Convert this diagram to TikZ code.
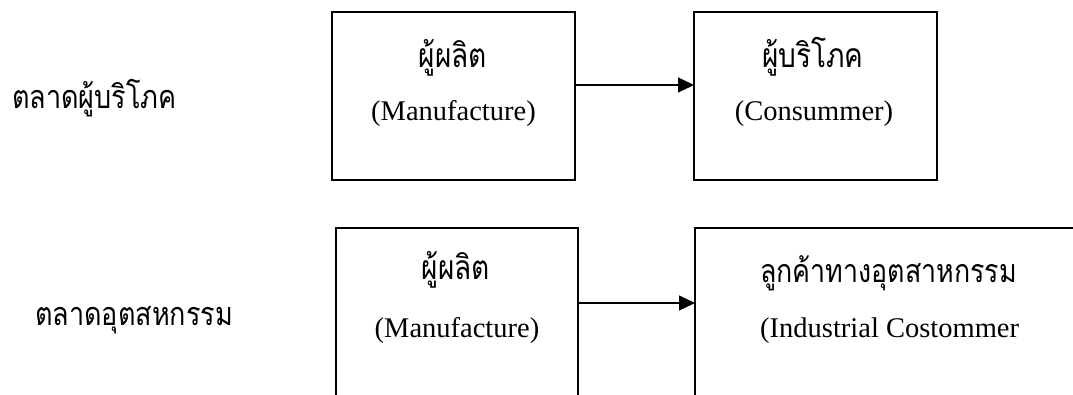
\documentclass[tikz,border=0pt]{standalone}
\usepackage{fontspec}
\setmainfont{Liberation Serif}
\newfontfamily\thaifont[Script=Thai]{Loma}
\usetikzlibrary{arrows.meta}
\newcommand{\tallthai}[1]{\scalebox{1}[1.2]{#1}}
\begin{document}
\begin{tikzpicture}[x=1pt,y=-1pt,
  box/.style={draw,line width=1.6pt,inner sep=0pt,outer sep=0pt},
  lat/.style={inner sep=0pt,anchor=base,font=\fontsize{28.5}{34}\selectfont},
  thb/.style={inner sep=0pt,anchor=base,font=\thaifont\fontsize{28}{34}\selectfont},
  thl/.style={inner sep=0pt,anchor=base west,font=\thaifont\fontsize{27}{34}\selectfont},
  flow/.style={line width=1.2pt,-{Triangle[length=16pt,width=15pt]}}]
\useasboundingbox (0,0) rectangle (1073,394);
\clip (0,0) rectangle (1073,394);
% top row
\node[box,minimum width=243pt,minimum height=168pt] (b1) at (453.5,96) {};
\node[box,minimum width=243pt,minimum height=168pt] (b2) at (815.5,96) {};
\node[thb] (t1) at (453,67) {\tallthai{ผู้ผลิต}};
\node[lat] (e1) at (453.5,120) {(Manufacture)};
\node[thb] (t2) at (813,67) {\tallthai{ผู้บริโภค}};
\node[lat] (e2) at (814,120) {(Consummer)};
\draw[flow] ([yshift=11pt]b1.east) -- ([yshift=11pt]b2.west);
\node[thl] (l1) at (12,108) {\tallthai{ตลาดผู้บริโภค}};
% bottom row
\node[box,minimum width=242pt,minimum height=168pt] (b3) at (457,312) {};
\node[box,minimum width=420pt,minimum height=168pt] (b4) at (905,312) {};
\node[thb] (t3) at (456,279) {\tallthai{ผู้ผลิต}};
\node[lat] (e3) at (457,337) {(Manufacture)};
\node[thb,anchor=base west,font=\thaifont\fontsize{26.8}{34}\selectfont] (t4) at (760,282) {\tallthai{ลูกค้าทางอุตสาหกรรม}};
\node[lat,anchor=base west] (e4) at (760,337) {(Industrial Costommer};
\draw[flow] ([yshift=9pt]b3.east) -- ([yshift=9pt]b4.west);
\node[thl] (l2) at (35,325) {\tallthai{ตลาดอุตสหกรรม}};
\end{tikzpicture}
\end{document}
